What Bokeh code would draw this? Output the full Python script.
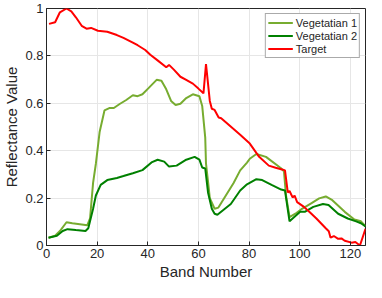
from bokeh.plotting import figure
from bokeh.models import FixedTicker, NumeralTickFormatter, Range1d
from bokeh.embed import file_html
from bokeh.resources import INLINE

# Target spectrum
target_band = [1, 3.4, 5.3, 7.9, 9.8, 11.6, 13.9, 15.8, 17.6, 20.3, 24, 27.8, 30.4, 34.1, 36,
               39, 41, 44, 47.3, 48.4, 50.3, 52.9, 55, 57.8, 60, 62, 63, 64.5, 65.3, 66.4, 68,
               69, 76.5, 80.3, 84, 87.8, 90.5, 93.4, 94.2, 95.3, 96, 97.2, 98, 99, 101.7, 104,
               106.6, 110.3, 111.5, 112.2, 113.5, 115.2, 116.5, 117.8, 120.5, 122, 123.8, 126]
target_val = [0.935, 0.942, 0.984, 1.0, 0.988, 0.963, 0.927, 0.915, 0.918, 0.906, 0.902, 0.888,
              0.876, 0.856, 0.845, 0.825, 0.805, 0.78, 0.752, 0.762, 0.742, 0.712, 0.70, 0.683,
              0.662, 0.642, 0.765, 0.61, 0.577, 0.572, 0.54, 0.537, 0.467, 0.43, 0.374, 0.337,
              0.328, 0.32, 0.317, 0.224, 0.23, 0.203, 0.21, 0.183, 0.163, 0.14, 0.114, 0.073,
              0.06, 0.033, 0.04, 0.028, 0.03, 0.02, 0.012, 0.015, 0.0, 0.07]

# Vegetation 1 spectrum
veg1_band = [0.8, 3.4, 5.3, 7.9, 10.2, 13.9, 16.1, 17.2, 18.4, 19.5, 21, 22.9, 24.8, 26.6, 28.9,
             31.5, 34.1, 36, 37.9, 40.2, 43.5, 45.4, 47.3, 49.2, 51, 52.9, 55.2, 57.8, 60.4,
             61.5, 62.7, 63, 63.8, 64.5, 66.4, 67.9, 73.9, 76.5, 79.2, 80.3, 82.9, 86.7, 92.5,
             93.8, 94.6, 96, 98.3, 100.9, 104.7, 107.7, 110.3, 112.9, 117.8, 121.6, 124.2, 126]
veg1_val = [0.033, 0.041, 0.061, 0.098, 0.094, 0.089, 0.085, 0.114, 0.264, 0.345, 0.48, 0.57,
            0.58, 0.58, 0.597, 0.614, 0.634, 0.63, 0.638, 0.663, 0.699, 0.695, 0.659, 0.61,
            0.593, 0.598, 0.622, 0.638, 0.63, 0.589, 0.455, 0.345, 0.27, 0.2, 0.155, 0.16,
            0.264, 0.317, 0.35, 0.366, 0.386, 0.374, 0.327, 0.313, 0.211, 0.12, 0.134, 0.155,
            0.179, 0.199, 0.207, 0.191, 0.142, 0.11, 0.102, 0.081]

# Vegetation 2 spectrum
veg2_band = [0.8, 4.1, 6.4, 8.3, 11.6, 15.4, 16.5, 18.4, 19.5, 21.4, 24, 27.8, 30.4, 34.1, 37.9,
             41.7, 43.9, 46.5, 48.4, 51.4, 55.2, 58.5, 60.4, 61.5, 62.7, 63.8, 65.3, 66.4, 67.5,
             72.8, 76.5, 79.2, 82.9, 85.2, 88.9, 92.7, 94.2, 96, 97.2, 100.2, 102, 105.4, 109.2,
             111.4, 115.2, 119, 122.3, 124.2, 126]
veg2_val = [0.033, 0.041, 0.061, 0.069, 0.065, 0.061, 0.073, 0.155, 0.211, 0.256, 0.276, 0.285,
            0.293, 0.305, 0.318, 0.352, 0.362, 0.354, 0.333, 0.337, 0.362, 0.374, 0.362, 0.329,
            0.325, 0.224, 0.155, 0.134, 0.13, 0.175, 0.232, 0.258, 0.28, 0.276, 0.256, 0.236,
            0.232, 0.102, 0.114, 0.142, 0.142, 0.163, 0.175, 0.171, 0.134, 0.114, 0.102, 0.094,
            0.081]

x_ticks = [0, 20, 40, 60, 80, 100, 120]
y_ticks = [0, 0.2, 0.4, 0.6, 0.8, 1.0]

FONT = "Liberation Sans"
DARK = "#262626"

p = figure(width=366, height=282, output_backend="svg", toolbar_location=None,
           x_range=Range1d(0, 126), y_range=Range1d(0, 1),
           min_border_top=8, min_border_right=1, min_border_left=2, min_border_bottom=2)

p.line(veg1_band, veg1_val, line_color="#77AC30", line_width=2, legend_label="Vegetatian 1")
p.line(veg2_band, veg2_val, line_color="#008000", line_width=2, legend_label="Vegetatian 2")
p.line(target_band, target_val, line_color="#FF0000", line_width=2, legend_label="Target")

p.xaxis.ticker = FixedTicker(ticks=x_ticks)
p.yaxis.ticker = FixedTicker(ticks=y_ticks)
p.yaxis.formatter = NumeralTickFormatter(format="0.[0]")
p.xaxis.axis_label = "Band Number"
p.yaxis.axis_label = "Reflectance Value"

for ax in (p.xaxis, p.yaxis):
    ax.axis_label_text_font = FONT
    ax.axis_label_text_font_size = "15px"
    ax.axis_label_text_font_style = "normal"
    ax.axis_label_text_color = DARK
    ax.major_label_text_font = FONT
    ax.major_label_text_font_size = "13px"
    ax.major_label_text_color = DARK
    ax.axis_line_color = DARK
    ax.major_tick_line_color = DARK
    ax.major_tick_in = 4
    ax.major_tick_out = 0
    ax.minor_tick_line_color = None
    ax.major_label_standoff = 3
    ax.axis_label_standoff = 2

p.grid.grid_line_color = "#e6e6e6"
p.outline_line_color = DARK
p.outline_line_width = 1
p.background_fill_color = "white"
p.border_fill_color = "white"

lg = p.legend[0]
lg.location = "top_right"
lg.margin = 5
lg.padding = 2
lg.spacing = 0
lg.glyph_width = 25
lg.glyph_height = 13
lg.label_height = 13
lg.label_standoff = 3
lg.label_text_font = FONT
lg.label_text_font_size = "11px"
lg.label_text_color = DARK
lg.border_line_color = "#555555"
lg.border_line_width = 1
lg.background_fill_color = "white"
lg.background_fill_alpha = 1.0

open("out.html", "w").write(file_html(p, INLINE))
